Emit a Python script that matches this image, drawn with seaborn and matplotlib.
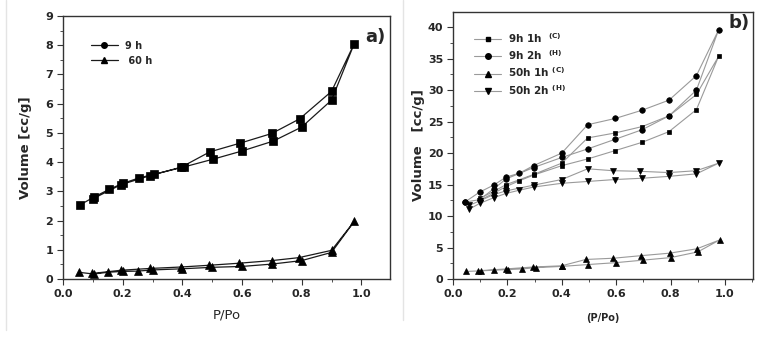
import numpy as np
import pandas as pd
import matplotlib
matplotlib.use("Agg")
import matplotlib.pyplot as plt
from matplotlib.lines import Line2D
from matplotlib.ticker import MultipleLocator
import seaborn as sns

# ---------------------------------------------------
# DATOS (isotermas: rama de adsorcion y luego desorcion)
# ---------------------------------------------------
# panel a)
P_9H = [0.058, 0.103, 0.155, 0.20, 0.255, 0.304, 0.404, 0.503, 0.60, 0.705, 0.80, 0.90, 0.976,
        0.90, 0.793, 0.70, 0.594, 0.492, 0.397, 0.293, 0.195, 0.099]
V_9H = [2.54, 2.80, 3.07, 3.27, 3.46, 3.58, 3.83, 4.10, 4.38, 4.72, 5.20, 6.12, 8.05,
        6.42, 5.48, 4.98, 4.65, 4.35, 3.83, 3.54, 3.23, 2.74]
P_60H = [0.053, 0.103, 0.15, 0.20, 0.25, 0.30, 0.40, 0.50, 0.60, 0.70, 0.80, 0.90, 0.976,
         0.90, 0.79, 0.70, 0.59, 0.49, 0.395, 0.29, 0.195, 0.098]
V_60H = [0.23, 0.17, 0.23, 0.26, 0.27, 0.31, 0.35, 0.40, 0.43, 0.51, 0.63, 0.91, 1.97,
         0.98, 0.73, 0.63, 0.54, 0.47, 0.41, 0.36, 0.30, 0.19]
LABELS_A = ["9 h", " 60 h"]

# panel b)
P_9H1H = [0.098, 0.149, 0.196, 0.244, 0.296, 0.40, 0.498, 0.597, 0.695, 0.794, 0.895, 0.977,
          0.895, 0.794, 0.695, 0.597, 0.495, 0.40, 0.296, 0.196, 0.149, 0.098]
V_9H1H = [12.5, 13.6, 14.7, 15.6, 16.5, 18.0, 19.1, 20.4, 21.7, 23.4, 26.9, 35.4,
          29.3, 25.9, 24.2, 23.2, 22.4, 18.4, 16.6, 15.0, 13.9, 12.8]
P_9H2H = [0.043, 0.098, 0.149, 0.196, 0.296, 0.40, 0.498, 0.597, 0.695, 0.794, 0.895, 0.977,
          0.895, 0.794, 0.695, 0.597, 0.495, 0.40, 0.296, 0.244, 0.196, 0.149, 0.098, 0.043]
V_9H2H = [12.2, 12.6, 14.3, 15.9, 17.7, 19.3, 20.7, 22.2, 23.7, 25.9, 30.0, 39.6,
          32.3, 28.4, 26.8, 25.5, 24.5, 20.0, 18.0, 16.8, 16.2, 14.9, 13.8, 12.2]
P_50H1H = [0.047, 0.103, 0.152, 0.204, 0.254, 0.304, 0.40, 0.498, 0.60, 0.70, 0.80, 0.90, 0.98,
           0.897, 0.796, 0.69, 0.59, 0.488, 0.40, 0.293, 0.194, 0.093]
V_50H1H = [1.2, 1.3, 1.4, 1.5, 1.6, 1.8, 2.0, 2.3, 2.6, 3.0, 3.4, 4.3, 6.2,
           4.8, 4.1, 3.7, 3.3, 3.1, 2.1, 1.9, 1.6, 1.3]
P_50H2H = [0.06, 0.098, 0.149, 0.196, 0.244, 0.296, 0.40, 0.498, 0.597, 0.695, 0.794, 0.895, 0.977,
           0.895, 0.794, 0.689, 0.587, 0.495, 0.40, 0.296, 0.196, 0.149, 0.098, 0.06]
V_50H2H = [11.1, 12.0, 12.9, 13.6, 14.1, 14.6, 15.2, 15.5, 15.8, 16.0, 16.3, 16.7, 18.4,
           17.2, 16.9, 17.1, 17.2, 17.5, 15.8, 14.9, 14.0, 13.4, 12.4, 11.7]
LABELS_B = [r"9h 1h  $^{\mathbf{(C)}}$", r"9h 2h  $^{\mathbf{(H)}}$",
            r"50h 1h $^{\mathbf{(C)}}$", r"50h 2h $^{\mathbf{(H)}}$"]
# ---------------------------------------------------

sns.set_style("ticks")
plt.rcParams['font.family'] = ['DejaVu Sans']
plt.rcParams['axes.edgecolor'] = '#333333'
plt.rcParams['axes.linewidth'] = 1.0


def style_axes(ax, xmax, ymax, ymaj, ymin):
    ax.set_xlim(0, xmax)
    ax.set_ylim(0, ymax)
    ax.xaxis.set_major_locator(MultipleLocator(0.2))
    ax.xaxis.set_minor_locator(MultipleLocator(0.1))
    ax.yaxis.set_major_locator(MultipleLocator(ymaj))
    ax.yaxis.set_minor_locator(MultipleLocator(ymin))
    ax.tick_params(which='major', direction='out', length=4, width=0.8, color='#333333',
                   labelsize=8, pad=3, top=False, right=False)
    ax.tick_params(which='minor', direction='out', length=2, width=0.6, color='#333333',
                   top=False, right=False)
    for lab in ax.get_xticklabels() + ax.get_yticklabels():
        lab.set_fontweight('bold')
    for s in ax.spines.values():
        s.set_visible(True)


def draw(ax, p, v, marker, ms, lc, lw):
    sns.lineplot(x=p, y=v, sort=False, estimator=None, ax=ax, legend=False,
                 color=lc, linewidth=lw, marker=marker, markersize=ms,
                 markerfacecolor='black', markeredgecolor='black', markeredgewidth=0.5)


fig = plt.figure(figsize=(7.76, 3.57), dpi=100)

# ---------------- panel a ----------------
ax_a = fig.add_axes([63 / 776, 1 - 279 / 357, 327 / 776, 263 / 357])
draw(ax_a, P_9H, V_9H, 's', 5.5, '#1a1a1a', 0.9)
draw(ax_a, P_60H, V_60H, '^', 6, '#1a1a1a', 0.9)
style_axes(ax_a, 1.096, 9, 1, 0.5)
ax_a.set_xticks([0, 0.2, 0.4, 0.6, 0.8, 1.0])
ax_a.set_xticklabels(['0.0', '0.2', '0.4', '0.6', '0.8', '1.0'], fontweight='bold')
ax_a.set_xlabel('P/Po', fontsize=9.5, labelpad=7)
ax_a.set_ylabel('Volume [cc/g]', fontsize=9.5, fontweight='bold', labelpad=10)
ax_a.text(0.955, 0.92, 'a)', transform=ax_a.transAxes, fontsize=13, fontweight='bold',
          ha='center', va='center')
handles_a = [Line2D([], [], color='#1a1a1a', lw=0.9, marker='o', ms=4, mfc='black', mec='black'),
             Line2D([], [], color='#1a1a1a', lw=0.9, marker='^', ms=5, mfc='black', mec='black')]
ax_a.legend(handles_a, LABELS_A, loc='upper left', bbox_to_anchor=(0.06, 0.94),
            frameon=False, handlelength=2.7, handletextpad=0.8, labelspacing=0.55,
            prop={'size': 7, 'weight': 'bold'})

# ---------------- panel b ----------------
ax_b = fig.add_axes([453 / 776, 1 - 279 / 357, 300 / 776, 267 / 357])
draw(ax_b, P_9H1H, V_9H1H, 's', 3.5, '#9a9a9a', 0.8)
draw(ax_b, P_9H2H, V_9H2H, 'o', 4, '#9a9a9a', 0.8)
draw(ax_b, P_50H1H, V_50H1H, '^', 5, '#9a9a9a', 0.8)
draw(ax_b, P_50H2H, V_50H2H, 'v', 5, '#9a9a9a', 0.8)
style_axes(ax_b, 1.103, 42.4, 5, 2.5)
ax_b.set_xticks([0, 0.2, 0.4, 0.6, 0.8, 1.0])
ax_b.set_xticklabels(['0.0', '0.2', '0.4', '0.6', '0.8', '1.0'], fontweight='bold')
ax_b.set_xlabel('(P/Po)', fontsize=7, fontweight='bold', labelpad=10)
ax_b.set_ylabel('Volume   [cc/g]', fontsize=9.5, fontweight='bold', labelpad=2)
ax_b.text(0.955, 0.96, 'b)', transform=ax_b.transAxes, fontsize=13, fontweight='bold',
          ha='center', va='center')
markers_b = ['s', 'o', '^', 'v']
sizes_b = [3.5, 4, 5, 5]
handles_b = [Line2D([], [], color='#9a9a9a', lw=0.8, marker=m, ms=s, mfc='black', mec='black')
             for m, s in zip(markers_b, sizes_b)]
ax_b.legend(handles_b, LABELS_B, loc='upper left', bbox_to_anchor=(0.04, 0.965),
            frameon=False, handlelength=2.6, handletextpad=0.6, labelspacing=0.35,
            prop={'size': 7.5, 'weight': 'bold'})

# lineas grises de los bordes de la imagen original
fig.add_artist(Line2D([6 / 776, 6 / 776], [1 - 330 / 357, 1], color='#e4e4e4', lw=1))
fig.add_artist(Line2D([403 / 776, 403 / 776], [1 - 320 / 357, 1], color='#e4e4e4', lw=1))

fig.savefig('out.png', dpi=100)
